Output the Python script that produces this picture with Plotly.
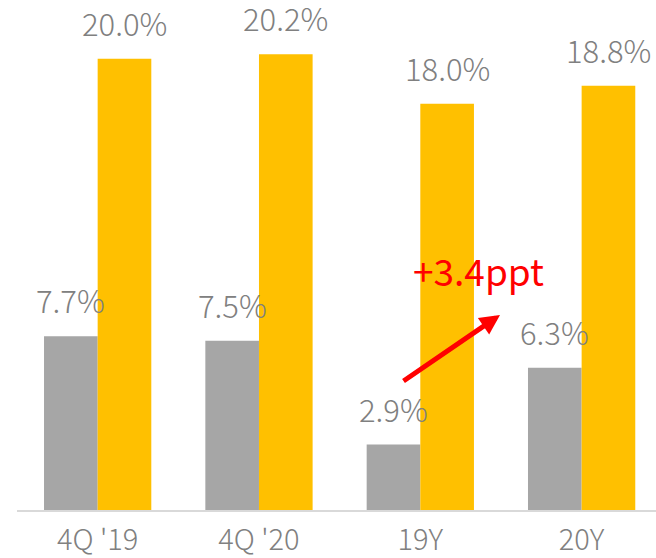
import plotly.graph_objects as go

# Quarterly / annual comparison of two margin series (%)
categories = ["4Q '19", "4Q '20", "19Y", "20Y"]
series_a = [7.7, 7.5, 2.9, 6.3]      # grey bars
series_b = [20.0, 20.2, 18.0, 18.8]  # gold bars
change_label = "+3.4ppt"

GREY = "#A6A6A6"
GOLD = "#FFC000"
LABEL_GREY = "#808080"
FONT = "Noto Sans CJK KR"

fig = go.Figure()
fig.add_trace(go.Bar(x=categories, y=series_a, marker=dict(color=GREY, line=dict(width=0)),
                     hoverinfo="skip"))
fig.add_trace(go.Bar(x=categories, y=series_b, marker=dict(color=GOLD, line=dict(width=0)),
                     hoverinfo="skip"))

# value labels above each bar (bars sit +/- 26.7px from the category centre)
bar_offset = 26.7
for cat, va, vb in zip(categories, series_a, series_b):
    for val, shift in ((va, -bar_offset), (vb, bar_offset)):
        fig.add_annotation(x=cat, y=val, text=f"{val:.1f}%", showarrow=False,
                           xref="x", yref="y", xanchor="center", yanchor="bottom",
                           xshift=shift, yshift=12,
                           font=dict(family=FONT, size=31, color=LABEL_GREY, weight=300))

# change callout: arrow and text
fig.add_annotation(x=0.7559, y=0.3824, xref="paper", yref="paper",
                   ax=-98, ay=67, axref="pixel", ayref="pixel",
                   showarrow=True, arrowhead=2, arrowsize=0.8, arrowwidth=5,
                   arrowcolor="#FF0000", text="")
fig.add_annotation(x=0.7215, y=0.4137, xref="paper", yref="paper",
                   text=change_label, showarrow=False, xanchor="center", yanchor="bottom",
                   font=dict(family=FONT, size=37, color="#FF0000", weight=400))

fig.update_layout(
    width=656, height=558,
    margin=dict(l=17, r=0, t=0, b=48, autoexpand=False),
    paper_bgcolor="white", plot_bgcolor="white",
    barmode="group", bargap=0.335, bargroupgap=0,
    showlegend=False,
    xaxis=dict(range=[-0.5, 3.461], showline=True, linecolor="#D9D9D9", linewidth=1.5,
               ticks="", showgrid=False, zeroline=False, ticklabelstandoff=3,
               automargin=False,
               tickfont=dict(family=FONT, size=29, color=LABEL_GREY, weight=300)),
    yaxis=dict(range=[0, 22.6], visible=False, showgrid=False, zeroline=False,
               automargin=False),
)

fig.write_html("out.html")
